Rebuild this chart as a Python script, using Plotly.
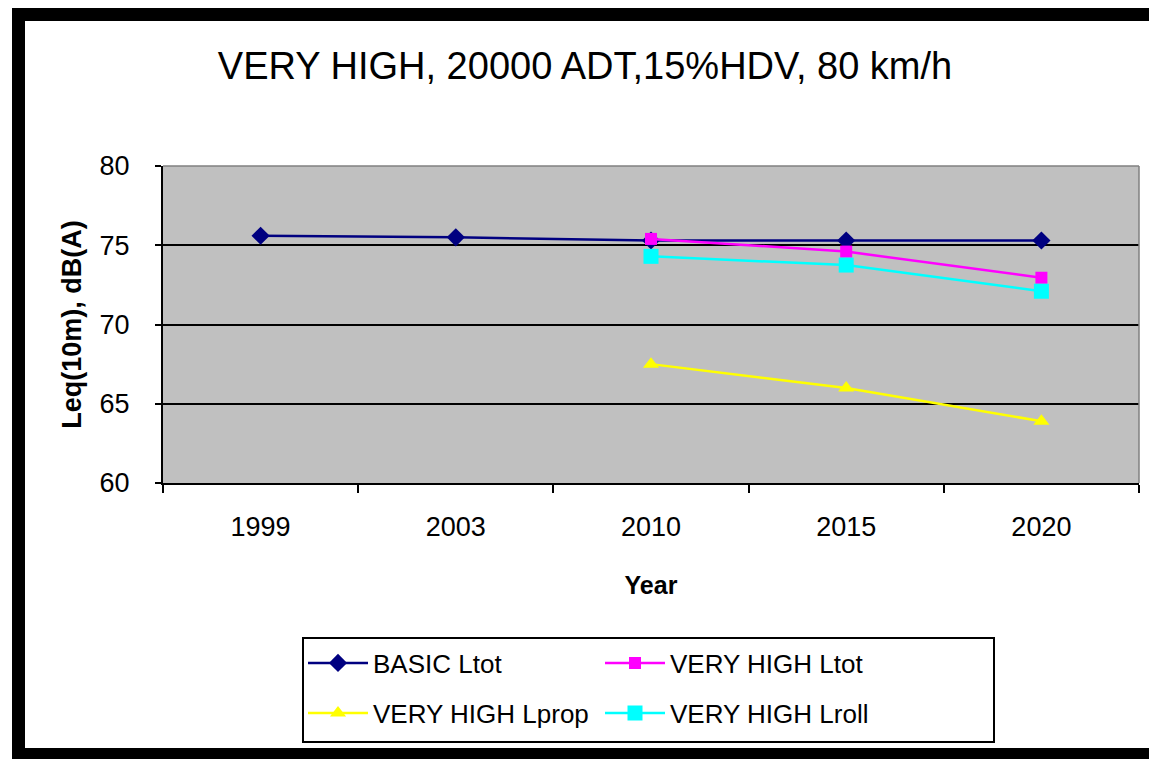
import plotly.graph_objects as go

years = ["1999", "2003", "2010", "2015", "2020"]
years_vh = ["2010", "2015", "2020"]
basic_ltot = [75.6, 75.5, 75.3, 75.3, 75.3]
vh_ltot = [75.4, 74.6, 72.95]
vh_lprop = [67.5, 66.0, 63.9]
vh_lroll = [74.3, 73.75, 72.1]

OFF = 8  # browser default body margin
W, H = 1157 - OFF, 759 - OFF
L, R, T, B = 163 - OFF, 1139 - OFF, 166 - OFF, 483 - OFF
FONT = "Liberation Sans, Arial, sans-serif"


def px(x):
    return (x - OFF - L) / (R - L)


def py(y):
    return (B - (y - OFF)) / (B - T)


fig = go.Figure()
fig.add_trace(go.Scatter(x=years, y=basic_ltot, name="BASIC Ltot", mode="lines+markers",
                         line=dict(color="#000080", width=2.5),
                         marker=dict(symbol="diamond", size=14, color="#000080"),
                         legend="legend"))
fig.add_trace(go.Scatter(x=years_vh, y=vh_ltot, name="VERY HIGH Ltot", mode="lines+markers",
                         line=dict(color="#FF00FF", width=2.5),
                         marker=dict(symbol="square", size=12, color="#FF00FF"),
                         legend="legend"))
fig.add_trace(go.Scatter(x=years_vh, y=vh_lprop, name="VERY HIGH Lprop", mode="lines+markers",
                         line=dict(color="#FFFF00", width=2.5),
                         marker=dict(symbol="triangle-up", size=14, color="#FFFF00"),
                         legend="legend2"))
fig.add_trace(go.Scatter(x=years_vh, y=vh_lroll, name="VERY HIGH Lroll", mode="lines+markers",
                         line=dict(color="#00FFFF", width=2.5),
                         marker=dict(symbol="square", size=15, color="#00FFFF"),
                         legend="legend2"))

shapes = [
    # outer black frame (top, left, bottom)
    dict(type="rect", xref="paper", yref="paper", x0=px(12), x1=px(1157), y0=py(7), y1=py(21),
         fillcolor="black", line=dict(width=0), layer="above"),
    dict(type="rect", xref="paper", yref="paper", x0=px(12), x1=px(25), y0=py(7), y1=py(759),
         fillcolor="black", line=dict(width=0), layer="above"),
    dict(type="rect", xref="paper", yref="paper", x0=px(12), x1=px(1157), y0=py(748), y1=py(759),
         fillcolor="black", line=dict(width=0), layer="above"),
    # plot area border (top/right grey)
    dict(type="line", xref="paper", yref="paper", x0=0, x1=1, y0=1, y1=1,
         line=dict(color="#808080", width=1.5)),
    dict(type="line", xref="paper", yref="paper", x0=1, x1=1, y0=0, y1=1,
         line=dict(color="#808080", width=1.5)),
    # legend box
    dict(type="rect", xref="paper", yref="paper", x0=px(303), x1=px(994), y0=py(638), y1=py(742),
         fillcolor="rgba(0,0,0,0)", line=dict(color="black", width=2)),
]

leg_common = dict(orientation="h", xanchor="left", yanchor="middle",
                  font=dict(family=FONT, size=26, color="black"),
                  bgcolor="rgba(0,0,0,0)", borderwidth=0,
                  itemwidth=60, entrywidth=222, traceorder="normal")

fig.update_layout(
    width=W, height=H,
    margin=dict(l=L, r=W - R, t=T, b=H - B),
    paper_bgcolor="white",
    plot_bgcolor="#C0C0C0",
    font=dict(family=FONT, color="black"),
    title=dict(text="VERY HIGH, 20000 ADT,15%HDV, 80 km/h",
               font=dict(family=FONT, size=38, color="black"),
               x=(585 - OFF) / W, xref="container", xanchor="center",
               y=1 - (66 - OFF) / H, yref="container", yanchor="middle"),
    showlegend=True,
    legend=dict(x=px(303), y=py(663), **leg_common),
    legend2=dict(x=px(303), y=py(713), **leg_common),
    xaxis=dict(type="category", categoryorder="array", categoryarray=years,
               range=[-0.5, 4.5], tickson="boundaries", ticks="outside", ticklen=8,
               tickwidth=1.5, tickcolor="black", showline=True, linecolor="black",
               linewidth=2, showgrid=False, zeroline=False,
               tickfont=dict(family=FONT, size=27, color="black"),
               ticklabelstandoff=19,
               title=dict(text="<b>Year</b>", font=dict(family=FONT, size=25, color="black"),
                          standoff=35)),
    yaxis=dict(range=[60, 80], dtick=5, tick0=60, ticks="outside", ticklen=6,
               tickwidth=1.5, tickcolor="black", showline=True, linecolor="black",
               linewidth=2, showgrid=True, gridcolor="black", gridwidth=2,
               zeroline=False,
               tickfont=dict(family=FONT, size=27, color="black"),
               ticklabelstandoff=20,
               title=dict(text="<b>Leq(10m), dB(A)</b>",
                          font=dict(family=FONT, size=27, color="black"), standoff=10)),
    shapes=shapes,
)

fig.write_html("out.html")
